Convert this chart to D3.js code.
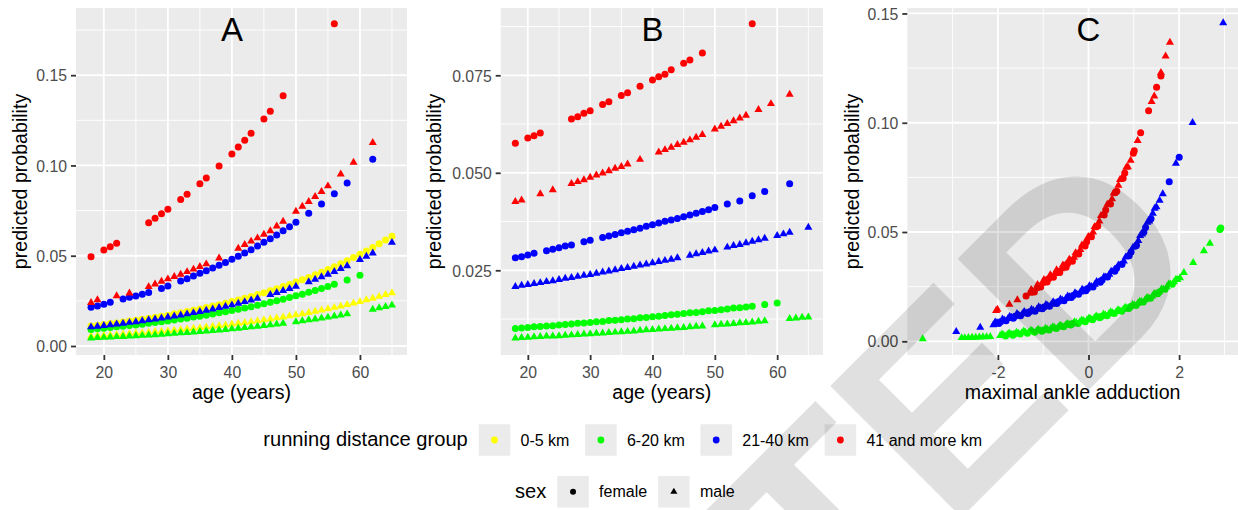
<!DOCTYPE html>
<html>
<head>
<meta charset="utf-8">
<script src="https://cdnjs.cloudflare.com/ajax/libs/d3/7.8.5/d3.min.js"></script>
<style>
  body { margin: 0; background: #ffffff; }
  text { font-family: "Liberation Sans", Arial, Helvetica, sans-serif; }
</style>
</head>
<body>
<svg id="chart" width="1238" height="510"></svg>
<script>
// ---------------- data: panels A and B (age) ----------------
// ages observed per group / sex, with predicted probability in model A and model B
var ageRedF = [18,20,21,22,27,28,29,30,32,33,35,36,38,40,41,42,43,45,46,48,56];
var aRedF = [0.0495,0.0532,0.0550,0.0569,0.0683,0.0707,0.0733,0.0757,0.0812,0.0840,0.0899,0.0930,0.0997,0.1063,0.1102,0.1139,0.1178,0.1257,0.1300,0.1386,0.1785];
var bRedF = [0.0576,0.0589,0.0595,0.0602,0.0638,0.0644,0.0653,0.0659,0.0675,0.0682,0.0698,0.0705,0.0722,0.0738,0.0746,0.0753,0.0764,0.0781,0.0789,0.0807,0.0882];

var ageRedM = [18,19,22,24,27,28,29,30,31,32,33,34,35,36,38,41,42,43,44,45,46,47,48,50,51,52,53,54,55,57,59,62];
var aRedM = [0.0240,0.0255,0.0277,0.0293,0.0328,0.0343,0.0358,0.0371,0.0384,0.0397,0.0411,0.0425,0.0439,0.0454,0.0487,0.0541,0.0561,0.0580,0.0598,0.0618,0.0638,0.0664,0.0690,0.0746,0.0773,0.0800,0.0827,0.0855,0.0886,0.0952,0.1017,0.1126];
var bRedM = [0.0426,0.0430,0.0446,0.0456,0.0472,0.0477,0.0482,0.0488,0.0494,0.0499,0.0505,0.0511,0.0516,0.0522,0.0534,0.0553,0.0559,0.0565,0.0572,0.0578,0.0584,0.0591,0.0598,0.0612,0.0619,0.0626,0.0633,0.0640,0.0647,0.0662,0.0677,0.0701];

var ageBlueF = [18,19,20,21,23,24,25,26,27,29,30,32,33,34,35,36,37,38,39,40,41,42,43,44,45,46,47,48,49,50,52,54,56,58,62];
var aBlueF = [0.0214,0.0221,0.0231,0.0242,0.0260,0.0270,0.0277,0.0286,0.0297,0.0319,0.0332,0.0360,0.0373,0.0388,0.0403,0.0417,0.0432,0.0447,0.0463,0.0480,0.0497,0.0515,0.0533,0.0554,0.0574,0.0594,0.0615,0.0638,0.0661,0.0685,0.0735,0.0786,0.0843,0.0903,0.1034];
var bBlueF = [0.0282,0.0285,0.0289,0.0294,0.0300,0.0304,0.0308,0.0312,0.0315,0.0323,0.0327,0.0334,0.0338,0.0342,0.0346,0.0350,0.0354,0.0358,0.0363,0.0367,0.0371,0.0376,0.0379,0.0383,0.0387,0.0392,0.0396,0.0401,0.0405,0.0411,0.0420,0.0428,0.0441,0.0452,0.0472];

var ageBlueM = [18,19,20,21,22,23,24,25,26,27,28,29,30,31,32,33,34,35,36,37,38,39,40,41,42,43,44,46,47,48,49,50,52,53,54,55,56,57,58,60,61,62,65];
var aBlueM = [0.0105,0.0109,0.0113,0.0117,0.0121,0.0125,0.0130,0.0134,0.0139,0.0144,0.0149,0.0154,0.0160,0.0165,0.0171,0.0177,0.0184,0.0190,0.0197,0.0204,0.0212,0.0219,0.0227,0.0236,0.0245,0.0254,0.0264,0.0284,0.0295,0.0306,0.0318,0.0330,0.0355,0.0369,0.0383,0.0397,0.0412,0.0428,0.0444,0.0478,0.0496,0.0514,0.0573];
var bBlueM = [0.0208,0.0211,0.0213,0.0216,0.0218,0.0221,0.0223,0.0226,0.0229,0.0231,0.0234,0.0237,0.0239,0.0242,0.0245,0.0248,0.0251,0.0254,0.0257,0.0260,0.0263,0.0266,0.0269,0.0272,0.0275,0.0278,0.0282,0.0288,0.0292,0.0295,0.0299,0.0302,0.0309,0.0313,0.0316,0.0320,0.0324,0.0328,0.0332,0.0339,0.0343,0.0347,0.0360];

var ageGreenF = [18,19,20,21,22,23,24,25,26,27,28,29,30,31,32,33,34,35,36,37,38,39,40,41,42,43,44,45,46,47,48,49,50,51,52,53,54,55,56,58,60];
var aGreenF = [0.0092,0.0095,0.0099,0.0102,0.0106,0.0109,0.0113,0.0117,0.0121,0.0126,0.0130,0.0135,0.0139,0.0144,0.0149,0.0154,0.0160,0.0165,0.0171,0.0177,0.0184,0.0190,0.0197,0.0204,0.0211,0.0218,0.0226,0.0234,0.0242,0.0250,0.0259,0.0268,0.0278,0.0287,0.0298,0.0308,0.0319,0.0330,0.0342,0.0366,0.0392];
var bGreenF = [0.0101,0.0102,0.0103,0.0105,0.0106,0.0107,0.0108,0.0110,0.0111,0.0112,0.0114,0.0115,0.0116,0.0118,0.0119,0.0121,0.0122,0.0123,0.0125,0.0126,0.0128,0.0129,0.0131,0.0132,0.0134,0.0136,0.0137,0.0139,0.0141,0.0142,0.0144,0.0146,0.0147,0.0149,0.0151,0.0153,0.0154,0.0156,0.0158,0.0162,0.0166];

var ageGreenM = [18,19,20,21,22,23,24,25,26,27,28,29,30,31,32,33,34,35,36,37,38,39,40,41,42,43,44,45,46,47,48,50,51,52,53,54,55,56,57,58,62,63,64,65];
var aGreenM = [0.0044,0.0046,0.0047,0.0049,0.0051,0.0052,0.0054,0.0056,0.0058,0.0060,0.0062,0.0064,0.0067,0.0069,0.0072,0.0074,0.0077,0.0079,0.0082,0.0085,0.0088,0.0091,0.0095,0.0098,0.0101,0.0105,0.0109,0.0113,0.0117,0.0121,0.0125,0.0134,0.0139,0.0144,0.0149,0.0154,0.0159,0.0165,0.0171,0.0177,0.0203,0.0211,0.0218,0.0226];
var bGreenM = [0.0076,0.0077,0.0078,0.0079,0.0080,0.0081,0.0081,0.0082,0.0083,0.0084,0.0085,0.0086,0.0087,0.0088,0.0089,0.0090,0.0091,0.0092,0.0093,0.0094,0.0096,0.0097,0.0098,0.0099,0.0100,0.0101,0.0102,0.0103,0.0105,0.0106,0.0107,0.0110,0.0111,0.0112,0.0113,0.0115,0.0116,0.0117,0.0119,0.0120,0.0126,0.0127,0.0129,0.0130];

// 0-5 km group only appears in model A
var ageYellow = [18,19,20,21,22,23,24,25,26,27,28,29,30,31,32,33,34,35,36,37,38,39,40,41,42,43,44,45,46,47,48,49,50,51,52,53,54,55,56,57,58,59,60,61,62,63,64,65];
var aYellowF = [0.0111,0.0115,0.0119,0.0124,0.0128,0.0133,0.0138,0.0143,0.0148,0.0154,0.0159,0.0165,0.0171,0.0178,0.0184,0.0191,0.0198,0.0205,0.0213,0.0221,0.0229,0.0237,0.0246,0.0255,0.0265,0.0274,0.0285,0.0295,0.0306,0.0317,0.0329,0.0341,0.0354,0.0367,0.0380,0.0394,0.0409,0.0424,0.0439,0.0456,0.0472,0.0490,0.0508,0.0526,0.0546,0.0566,0.0587,0.0608];
var aYellowM = [0.0055,0.0057,0.0059,0.0061,0.0063,0.0066,0.0068,0.0071,0.0073,0.0076,0.0079,0.0081,0.0084,0.0087,0.0091,0.0094,0.0097,0.0101,0.0105,0.0108,0.0112,0.0116,0.0121,0.0125,0.0129,0.0134,0.0139,0.0144,0.0149,0.0155,0.0160,0.0166,0.0172,0.0178,0.0185,0.0192,0.0199,0.0206,0.0213,0.0221,0.0229,0.0237,0.0246,0.0255,0.0264,0.0274,0.0284,0.0294];

// ---------------- data: panel C (maximal ankle adduction, [x, p]) ----------------
var cRedF = [[-1.378,0.0207],[-1.195,0.0225],[-1.09,0.0254],[-1.055,0.0249],[-0.915,0.0271],[-0.88,0.0286],[-0.775,0.0293],[-0.67,0.0320],[-0.635,0.0315],[-0.495,0.0339],[-0.46,0.0356],[-0.355,0.0366],[-0.25,0.0401],[-0.215,0.0399],[-0.075,0.0436],[-0.04,0.0456],[0.065,0.0478],[0.17,0.0524],[0.205,0.0527],[0.345,0.0578],[0.38,0.0601],[0.485,0.0628],[0.59,0.0680],[0.625,0.0686],[0.765,0.0746],[0.80,0.0770],[0.99,0.0860],[1.01,0.0872],[1.151,0.0954],[1.327,0.1055],[1.503,0.1162],[1.599,0.1214]];
var cRedM = [[-2.04,0.0140],[-2.01,0.0146],[-1.746,0.0169],[-1.57,0.0189],[-1.30,0.0219],[-1.265,0.0236],[-1.23,0.0229],[-1.16,0.0241],[-1.125,0.0259],[-1.02,0.0265],[-0.985,0.0282],[-0.95,0.0276],[-0.845,0.0304],[-0.81,0.0297],[-0.74,0.0309],[-0.705,0.0327],[-0.60,0.0331],[-0.565,0.0349],[-0.53,0.0343],[-0.425,0.0375],[-0.39,0.0369],[-0.32,0.0384],[-0.285,0.0405],[-0.18,0.0419],[-0.145,0.0440],[-0.11,0.0437],[-0.005,0.0479],[0.03,0.0477],[0.10,0.0499],[0.135,0.0524],[0.24,0.0550],[0.275,0.0575],[0.31,0.0576],[0.415,0.0626],[0.45,0.0626],[0.52,0.0651],[0.555,0.0678],[0.66,0.0713],[0.695,0.0740],[0.73,0.0744],[0.835,0.0796],[0.87,0.0798],[0.93,0.0828],[1.085,0.0918],[1.393,0.1096],[1.452,0.1122],[1.599,0.1229],[1.702,0.1305],[1.797,0.1368]];
var cBlueF = [[-1.98,0.0082],[-1.94,0.0090],[-1.82,0.0094],[-1.66,0.0106],[-1.62,0.0115],[-1.50,0.0117],[-1.34,0.0127],[-1.30,0.0135],[-1.18,0.0138],[-1.02,0.0149],[-0.98,0.0157],[-0.86,0.0160],[-0.70,0.0173],[-0.66,0.0182],[-0.54,0.0186],[-0.38,0.0200],[-0.34,0.0210],[-0.22,0.0215],[-0.06,0.0231],[-0.02,0.0241],[0.10,0.0249],[0.26,0.0270],[0.30,0.0281],[0.42,0.0294],[0.58,0.0321],[0.62,0.0334],[0.74,0.0352],[0.90,0.0392],[0.94,0.0409],[1.06,0.0440],[1.22,0.0499],[1.26,0.0521],[1.38,0.0561],[1.782,0.0730],[2.002,0.0842]];
var cBlueM = [[-2.92,0.0044],[-2.39,0.0064],[-2.10,0.0075],[-2.06,0.0088],[-2.02,0.0085],[-1.90,0.0101],[-1.86,0.0097],[-1.78,0.0103],[-1.74,0.0114],[-1.70,0.0109],[-1.58,0.0126],[-1.54,0.0120],[-1.46,0.0125],[-1.42,0.0136],[-1.38,0.0130],[-1.26,0.0146],[-1.22,0.0141],[-1.14,0.0146],[-1.10,0.0157],[-1.06,0.0152],[-0.94,0.0168],[-0.90,0.0163],[-0.82,0.0169],[-0.78,0.0180],[-0.74,0.0175],[-0.62,0.0193],[-0.58,0.0188],[-0.50,0.0195],[-0.46,0.0207],[-0.42,0.0203],[-0.30,0.0221],[-0.26,0.0216],[-0.18,0.0225],[-0.14,0.0237],[-0.10,0.0233],[0.02,0.0254],[0.06,0.0250],[0.14,0.0260],[0.18,0.0273],[0.22,0.0270],[0.34,0.0295],[0.38,0.0293],[0.46,0.0306],[0.50,0.0320],[0.54,0.0319],[0.66,0.0349],[0.70,0.0349],[0.78,0.0367],[0.82,0.0385],[0.86,0.0387],[0.98,0.0429],[1.02,0.0433],[1.10,0.0460],[1.14,0.0483],[1.18,0.0490],[1.30,0.0544],[1.34,0.0550],[1.42,0.0585],[1.46,0.0608],[1.50,0.0615],[1.57,0.0645],[1.64,0.0674],[1.93,0.0814],[2.297,0.1000],[2.973,0.1457]];
var cGreenF = [[-1.83,0.0024],[-1.67,0.0028],[-1.63,0.0034],[-1.51,0.0033],[-1.35,0.0037],[-1.19,0.0041],[-1.03,0.0046],[-0.99,0.0052],[-0.87,0.0052],[-0.71,0.0059],[-0.55,0.0066],[-0.39,0.0074],[-0.35,0.0081],[-0.23,0.0082],[-0.07,0.0090],[0.09,0.0099],[0.25,0.0108],[0.29,0.0115],[0.41,0.0117],[0.57,0.0127],[0.73,0.0138],[0.89,0.0150],[0.93,0.0159],[1.05,0.0164],[1.21,0.0180],[1.37,0.0197],[1.53,0.0217],[1.57,0.0227],[1.69,0.0238],[1.85,0.0261],[2.90,0.0512],[2.92,0.0518]];
var cGreenM = [[-3.66,0.0011],[-2.80,0.0016],[-2.73,0.0016],[-2.65,0.0017],[-2.57,0.0018],[-2.49,0.0018],[-2.41,0.0019],[-2.33,0.0020],[-2.25,0.0020],[-2.17,0.0021],[-1.95,0.0026],[-1.91,0.0033],[-1.87,0.0028],[-1.79,0.0030],[-1.75,0.0037],[-1.71,0.0032],[-1.59,0.0041],[-1.55,0.0036],[-1.47,0.0039],[-1.43,0.0046],[-1.39,0.0041],[-1.31,0.0043],[-1.27,0.0050],[-1.23,0.0045],[-1.15,0.0047],[-1.11,0.0054],[-1.07,0.0049],[-0.95,0.0059],[-0.91,0.0055],[-0.83,0.0058],[-0.79,0.0066],[-0.75,0.0062],[-0.67,0.0065],[-0.63,0.0073],[-0.59,0.0069],[-0.51,0.0073],[-0.47,0.0081],[-0.43,0.0077],[-0.31,0.0089],[-0.27,0.0085],[-0.19,0.0089],[-0.15,0.0097],[-0.11,0.0093],[-0.03,0.0098],[0.01,0.0106],[0.05,0.0102],[0.13,0.0107],[0.17,0.0115],[0.21,0.0111],[0.33,0.0124],[0.37,0.0120],[0.45,0.0125],[0.49,0.0134],[0.53,0.0130],[0.61,0.0135],[0.65,0.0144],[0.69,0.0140],[0.77,0.0146],[0.81,0.0155],[0.85,0.0152],[0.97,0.0168],[1.01,0.0166],[1.09,0.0173],[1.13,0.0183],[1.17,0.0181],[1.25,0.0189],[1.29,0.0200],[1.33,0.0198],[1.41,0.0207],[1.45,0.0218],[1.49,0.0217],[1.61,0.0239],[1.65,0.0238],[1.73,0.0249],[1.77,0.0261],[1.81,0.0261],[1.89,0.0272],[1.93,0.0283],[1.96,0.0282],[2.02,0.0290],[2.106,0.0314],[2.311,0.0360],[2.547,0.0414],[2.68,0.0448]];

// ---------------- legend / axis text ----------------
var groupLabels = ["0-5 km", "6-20 km", "21-40 km", "41 and more km"];
var groupColors = ["#FFFF00", "#00FF00", "#0000FF", "#FF0000"];
var sexLabels = ["female", "male"];
var watermarkText = "ACCEPTED";

var svg = d3.select("#chart");
var color = d3.scaleOrdinal().domain(groupLabels).range(groupColors);

var ptRadius = 3.5;
var triArea = 28;

function zipAge(ages, vals) {
    return ages.map(function(a, i) { return [a, vals[i]]; });
}

// draw order roughly follows the original (data rows)
var seriesA = [
    {group: "0-5 km", sex: "female", pts: zipAge(ageYellow, aYellowF)},
    {group: "0-5 km", sex: "male", pts: zipAge(ageYellow, aYellowM)},
    {group: "6-20 km", sex: "female", pts: zipAge(ageGreenF, aGreenF)},
    {group: "6-20 km", sex: "male", pts: zipAge(ageGreenM, aGreenM)},
    {group: "21-40 km", sex: "female", pts: zipAge(ageBlueF, aBlueF)},
    {group: "21-40 km", sex: "male", pts: zipAge(ageBlueM, aBlueM)},
    {group: "41 and more km", sex: "female", pts: zipAge(ageRedF, aRedF)},
    {group: "41 and more km", sex: "male", pts: zipAge(ageRedM, aRedM)}
];
var seriesB = [
    {group: "6-20 km", sex: "female", pts: zipAge(ageGreenF, bGreenF)},
    {group: "6-20 km", sex: "male", pts: zipAge(ageGreenM, bGreenM)},
    {group: "21-40 km", sex: "female", pts: zipAge(ageBlueF, bBlueF)},
    {group: "21-40 km", sex: "male", pts: zipAge(ageBlueM, bBlueM)},
    {group: "41 and more km", sex: "female", pts: zipAge(ageRedF, bRedF)},
    {group: "41 and more km", sex: "male", pts: zipAge(ageRedM, bRedM)}
];
var seriesC = [
    {group: "6-20 km", sex: "male", pts: cGreenM},
    {group: "6-20 km", sex: "female", pts: cGreenF},
    {group: "21-40 km", sex: "male", pts: cBlueM},
    {group: "21-40 km", sex: "female", pts: cBlueF},
    {group: "41 and more km", sex: "male", pts: cRedM},
    {group: "41 and more km", sex: "female", pts: cRedF}
];

var panels = [
    {label: "A", left: 76, right: 407, xDomain: [15.65, 67.35], yDomain: [-0.00498, 0.1872],
     xTicks: [20,30,40,50,60], xMinor: [25,35,45,55,65], yTicks: [0,0.05,0.10,0.15], yMinor: [0.025,0.075,0.125,0.175],
     yFmt: d3.format(".2f"), xTitle: "age (years)", yTitleX: 27, labelX: 40, series: seriesA},
    {label: "B", left: 500.7, right: 823, xDomain: [15.65, 67.35], yDomain: [0.00328, 0.09226],
     xTicks: [20,30,40,50,60], xMinor: [25,35,45,55,65], yTicks: [0.025,0.050,0.075], yMinor: [0.0125,0.0375,0.0625,0.0875],
     yFmt: d3.format(".3f"), xTitle: "age (years)", yTitleX: 440.5, labelX: 40, series: seriesB},
    {label: "C", left: 907.3, right: 1238, xDomain: [-4.0, 3.30], yDomain: [-0.00627, 0.1525],
     xTicks: [-2,0,2], xMinor: [-3,-1,1,3], yTicks: [0,0.05,0.10,0.15], yMinor: [0.025,0.075,0.125],
     yFmt: d3.format(".2f"), xTitle: "maximal ankle adduction", yTitleX: 858.5, labelX: 0, series: seriesC}
];

var panelTop = 8, panelBottom = 355;

function drawMark(g, sex, cx, cy, fill, r, area) {
    if (sex === "female") {
        g.append("circle").attr("cx", cx).attr("cy", cy).attr("r", r).attr("fill", fill);
    } else {
        g.append("path")
            .attr("d", d3.symbol().type(d3.symbolTriangle).size(area)())
            .attr("transform", "translate(" + cx + "," + cy + ")")
            .attr("fill", fill);
    }
}

panels.forEach(function(p) {
    var x = d3.scaleLinear().domain(p.xDomain).range([p.left, p.right]);
    var y = d3.scaleLinear().domain(p.yDomain).range([panelBottom, panelTop]);
    var g = svg.append("g");

    // panel background
    g.append("rect")
        .attr("x", p.left).attr("y", panelTop)
        .attr("width", p.right - p.left).attr("height", panelBottom - panelTop)
        .attr("fill", "#EBEBEB");

    // minor grid
    p.xMinor.filter(function(d) { return x(d) > p.left && x(d) < p.right; }).forEach(function(d) {
        g.append("line").attr("x1", x(d)).attr("x2", x(d)).attr("y1", panelTop).attr("y2", panelBottom)
            .attr("stroke", "#fff").attr("stroke-width", 0.9);
    });
    p.yMinor.filter(function(d) { return y(d) > panelTop && y(d) < panelBottom; }).forEach(function(d) {
        g.append("line").attr("x1", p.left).attr("x2", p.right).attr("y1", y(d)).attr("y2", y(d))
            .attr("stroke", "#fff").attr("stroke-width", 0.9);
    });
    // major grid
    p.xTicks.forEach(function(d) {
        g.append("line").attr("x1", x(d)).attr("x2", x(d)).attr("y1", panelTop).attr("y2", panelBottom)
            .attr("stroke", "#fff").attr("stroke-width", 1.8);
    });
    p.yTicks.forEach(function(d) {
        g.append("line").attr("x1", p.left).attr("x2", p.right).attr("y1", y(d)).attr("y2", y(d))
            .attr("stroke", "#fff").attr("stroke-width", 1.8);
    });

    // points
    var pg = g.append("g");
    p.series.forEach(function(s) {
        s.pts.forEach(function(d) {
            drawMark(pg, s.sex, x(d[0]), y(d[1]), color(s.group), ptRadius, triArea);
        });
    });

    // panel letter
    g.append("text")
        .attr("x", x(p.labelX)).attr("y", 41)
        .attr("text-anchor", "middle")
        .attr("font-size", 33)
        .attr("fill", "#000")
        .text(p.label);

    // axes
    var xAxis = g.append("g").attr("transform", "translate(0," + panelBottom + ")")
        .call(d3.axisBottom(x).tickValues(p.xTicks).tickSize(5).tickPadding(4)
            .tickFormat(function(d) { return String(d); }));
    var yAxis = g.append("g").attr("transform", "translate(" + p.left + ",0)")
        .call(d3.axisLeft(y).tickValues(p.yTicks).tickSize(5).tickPadding(4).tickFormat(p.yFmt));
    [xAxis, yAxis].forEach(function(a) {
        a.select(".domain").remove();
        a.selectAll(".tick line").attr("stroke", "#333333").attr("stroke-width", 1.8);
        a.selectAll(".tick text").attr("fill", "#4D4D4D").attr("font-size", 15.8)
            .attr("font-family", "\"Liberation Sans\", Arial, sans-serif");
    });
    xAxis.selectAll(".tick text").attr("dy", null).attr("y", 23);
    yAxis.selectAll(".tick text").attr("dy", "0.36em");

    // axis titles
    g.append("text")
        .attr("x", (p.left + p.right) / 2).attr("y", 399)
        .attr("text-anchor", "middle").attr("font-size", 19.6).attr("fill", "#000")
        .text(p.xTitle);
    g.append("text")
        .attr("transform", "translate(" + p.yTitleX + "," + ((panelTop + panelBottom) / 2) + ") rotate(-90)")
        .attr("text-anchor", "middle").attr("font-size", 19.6).attr("fill", "#000")
        .text("predicted probability");
});

// ---------------- legends ----------------
function legendRow(startX, cy, title, items, gap) {
    var g = svg.append("g");
    var t = g.append("text").attr("x", startX).attr("y", cy + 6).attr("font-size", 20.1)
        .attr("fill", "#000").text(title);
    var key = 31.5;
    var xPos = startX + t.node().getComputedTextLength() + 11;
    items.forEach(function(it) {
        g.append("rect").attr("x", xPos).attr("y", cy - key / 2)
            .attr("width", key).attr("height", key).attr("fill", "#EBEBEB");
        drawMark(g, it.sex, xPos + key / 2, cy, it.fill, it.r, it.area);
        var lt = g.append("text").attr("x", xPos + key + 10.3).attr("y", cy + 5.6)
            .attr("font-size", 16).attr("fill", "#000").text(it.label);
        xPos += key + 10.3 + lt.node().getComputedTextLength() + gap;
    });
}

legendRow(263.3, 440, "running distance group", groupLabels.map(function(gl) {
    return {label: gl, sex: "female", fill: color(gl), r: 3.4, area: 0};
}), 15.7);
legendRow(515, 491.8, "sex", sexLabels.map(function(sl) {
    return {label: sl, sex: sl, fill: "#000", r: 3.0, area: 22};
}), 11);

// ---------------- diagonal watermark over the figure ----------------
svg.append("text")
    .attr("transform", "translate(1214,265) rotate(-45)")
    .attr("text-anchor", "end")
    .attr("font-size", 270)
    .attr("font-weight", "bold")
    .attr("fill", "#000")
    .attr("fill-opacity", 0.12)
    .text(watermarkText);
</script>
</body>
</html>
